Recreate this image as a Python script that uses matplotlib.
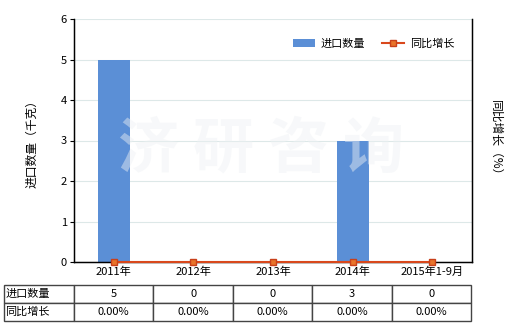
import matplotlib
matplotlib.use("Agg")
import matplotlib.pyplot as plt
import numpy as np

plt.rcParams['font.family'] = ['Noto Sans CJK SC', 'DejaVu Sans']

categories = ["2011年", "2012年", "2013年", "2014年", "2015年1-9月"]
import_qty = [5, 0, 0, 3, 0]
yoy_growth = [0, 0, 0, 0, 0]
qty_labels = ["5", "0", "0", "3", "0"]
yoy_labels = ["0.00%", "0.00%", "0.00%", "0.00%", "0.00%"]
row_names = ["进口数量", "同比增长"]
yticks = [0, 1, 2, 3, 4, 5, 6]

fig = plt.figure(figsize=(5.2, 3.3), dpi=100)
ax = fig.add_axes([74/520, 68/330, 398/520, 243/330])
x = np.arange(len(categories))
ax.bar(x, import_qty, width=0.4, color='#5b8fd6', label='进口数量', zorder=2)
ax.set_xlim(-0.5, len(categories) - 0.5)
ax.set_ylim(0, 6)
ax.set_yticks(yticks)
ax.grid(axis='y', color='#dde8e8', linewidth=0.8, zorder=0)
ax.set_xticks(x)
ax.set_xticklabels(categories, fontsize=8)
ax.tick_params(axis='y', labelsize=8, length=3, pad=2)
ax.tick_params(axis='x', length=0, pad=3)
for s in ['left', 'right', 'bottom']:
    ax.spines[s].set_color('black')
    ax.spines[s].set_linewidth(1)
ax.spines['top'].set_visible(False)
ax.set_ylabel('进口数量（千克）', fontsize=8.5, labelpad=16)

ax2 = ax.twinx()
ax2.plot(x, yoy_growth, color='#d9481c', linewidth=1.5, marker='s', markersize=4,
         markerfacecolor='#e8742a', markeredgecolor='#c8401a', label='同比增长', zorder=3,
         clip_on=False)
ax2.set_ylim(0, 6)
ax2.set_yticks([])
ax2.spines['top'].set_visible(False)
ax2.spines['right'].set_color('black')
ax2.set_ylabel('同比增长（%）', fontsize=8.5, rotation=270, labelpad=22)

h1, l1 = ax.get_legend_handles_labels()
h2, l2 = ax2.get_legend_handles_labels()
ax2.legend(h1 + h2, l1 + l2, loc='upper right', bbox_to_anchor=(0.98, 0.96), ncol=2,
           frameon=False, fontsize=8, handlelength=2.0, columnspacing=1.5,
           handletextpad=0.5)

# watermark
ax2.text(0.47, 0.46, '济 研 咨 询', transform=ax.transAxes, fontsize=44, color='#eef1f4',
         alpha=0.45, ha='center', va='center', fontweight='bold', zorder=1)

# table
cell_text = [[row_names[0]] + qty_labels, [row_names[1]] + yoy_labels]
tbl = ax.table(cellText=cell_text, cellLoc='center',
               colWidths=[70/467] + [79.4/467]*5,
               bbox=[(4-74)/398, (262-321)/243, 467/398, 36/243])
tbl.auto_set_font_size(False)
tbl.set_fontsize(8)
for (r, c), cell in tbl.get_celld().items():
    cell.set_edgecolor('#444444')
    cell.set_linewidth(1)
    if c == 0:
        cell.set_text_props(ha='left')
        cell.PAD = 0.02

fig.savefig('out.png', dpi=100)
